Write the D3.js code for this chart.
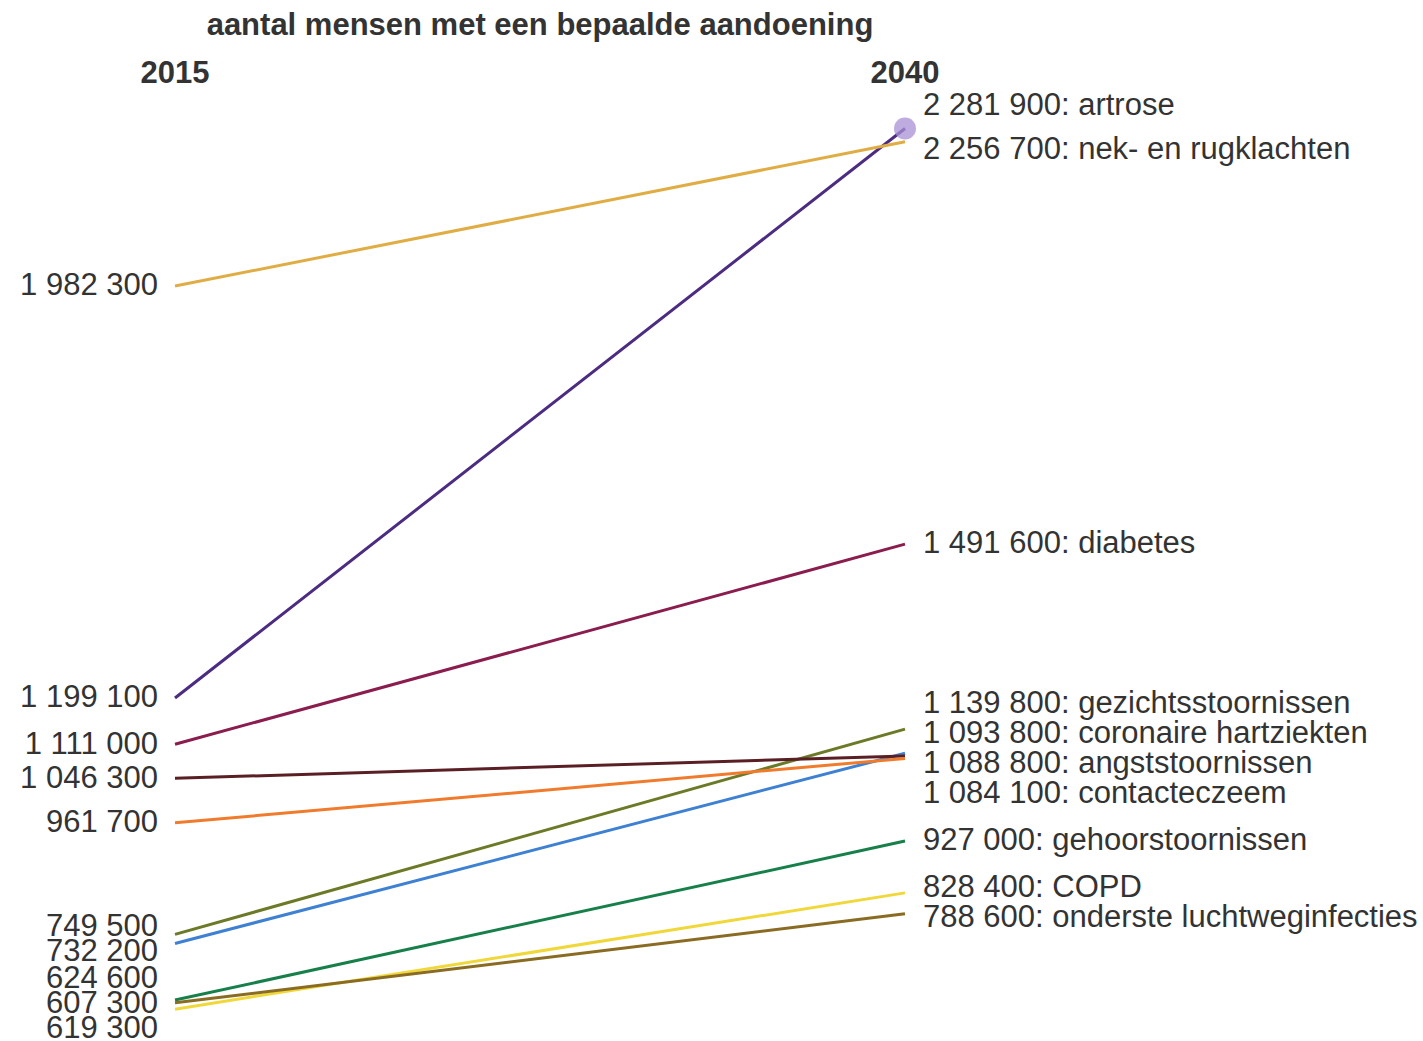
<!DOCTYPE html>
<html>
<head>
<meta charset="utf-8">
<script src="https://cdn.jsdelivr.net/npm/d3@7"></script>
<style>
  body { margin: 0; background: #fff; }
  text { font-family: "Liberation Sans", Arial, sans-serif; fill: #333; }
</style>
</head>
<body>
<svg id="chart"></svg>
<script>
// Data: number of people with a certain condition, 2015 and 2040
const years = ['2015', '2040'];
const conditions = ['artrose', 'nek- en rugklachten', 'diabetes', 'gezichtsstoornissen',
    'coronaire hartziekten', 'angststoornissen', 'contacteczeem', 'gehoorstoornissen',
    'COPD', 'onderste luchtweginfecties'];
const values2015 = [1199100, 1982300, 1111000, 749500, 732200, 1046300, 961700, 624600, 607300, 619300];
const values2040 = [2281900, 2256700, 1491600, 1139800, 1093800, 1088800, 1084100, 927000, 828400, 788600];
const lineColors = ['#4b2c80', '#e0ad45', '#8a1c4e', '#6b7a26', '#3e80d2', '#5a1f25',
    '#f07b2c', '#17804a', '#f1d83a', '#8a6b22'];

const width = 1423, height = 1041;
const fontSize = 31;

const svg = d3.select('#chart')
    .attr('width', width)
    .attr('height', height);

svg.append('rect').attr('width', width).attr('height', height).attr('fill', '#fff');

// scales
const x = d3.scalePoint().domain(years).range([175, 905]);
const y = d3.scaleLinear().domain([600000, 2300000]).range([1013, 119]);

const fmt = v => d3.format(',')(v).replace(/,/g, ' ');

const data = conditions.map((c, i) => ({
    name: c,
    v15: values2015[i],
    v40: values2040[i],
    color: lineColors[i]
}));

// simple label dodge: merge overlapping labels into clusters centred on their targets
const dodge = (items, gap) => {
    let clusters = items.map(d => ({items: [d], y: d.target}));
    let merged = true;
    while (merged) {
        merged = false;
        for (let i = 0; i < clusters.length - 1; i++) {
            const a = clusters[i], b = clusters[i + 1];
            const aBottom = a.y + (a.items.length - 1) * gap / 2;
            const bTop = b.y - (b.items.length - 1) * gap / 2;
            if (bTop - aBottom < gap) {
                const all = a.items.concat(b.items);
                clusters.splice(i, 2, {items: all, y: d3.mean(all, d => d.target)});
                merged = true;
                break;
            }
        }
    }
    clusters.forEach(c => {
        const top = c.y - (c.items.length - 1) * gap / 2;
        c.items.forEach((d, j) => d.pos = top + j * gap);
    });
    return items;
};

// title and year headers
svg.append('text')
    .attr('x', (x('2015') + x('2040')) / 2)
    .attr('y', 24)
    .attr('dy', '0.35em')
    .attr('text-anchor', 'middle')
    .attr('font-weight', 'bold')
    .attr('font-size', fontSize)
    .text('aantal mensen met een bepaalde aandoening');

svg.selectAll('text.year').data(years)
    .join('text')
    .attr('class', 'year')
    .attr('x', d => x(d))
    .attr('y', 72)
    .attr('dy', '0.35em')
    .attr('text-anchor', 'middle')
    .attr('font-weight', 'bold')
    .attr('font-size', fontSize)
    .text(d => d);

// lines
const lines = svg.append('g');
lines.selectAll('line').data(data)
    .join('line')
    .attr('x1', x('2015'))
    .attr('x2', x('2040'))
    .attr('y1', d => y(d.v15))
    .attr('y2', d => y(d.v40))
    .attr('stroke', d => d.color)
    .attr('stroke-width', 3);

// highlight dot on the top end point
const top40 = data.reduce((a, b) => (b.v40 > a.v40 ? b : a));
svg.append('circle')
    .attr('cx', x('2040'))
    .attr('cy', y(top40.v40))
    .attr('r', 11)
    .attr('fill', '#a88fd6')
    .attr('opacity', 0.75);

// left labels: lines starting near each other are ordered by where they end
const left = data.map(d => ({d, target: y(d.v15)}))
    .sort((a, b) => (Math.round(b.d.v15 / 50000) - Math.round(a.d.v15 / 50000)) || (b.d.v40 - a.d.v40));
dodge(left, 25);

svg.append('g').selectAll('text').data(left)
    .join('text')
    .attr('x', x('2015') - 17)
    .attr('y', d => d.pos)
    .attr('dy', '0.3em')
    .attr('text-anchor', 'end')
    .attr('font-size', fontSize)
    .text(d => fmt(d.d.v15));

// right labels
const right = data.map(d => ({d, target: y(d.v40)}))
    .sort((a, b) => b.d.v40 - a.d.v40);
dodge(right, 30);
// keep the label of the highlighted point clear of its dot
right.filter(r => r.d === top40).forEach(r => r.pos -= 14);

svg.append('g').selectAll('text').data(right)
    .join('text')
    .attr('x', x('2040') + 18)
    .attr('y', d => d.pos)
    .attr('dy', '0.28em')
    .attr('font-size', fontSize)
    .text(d => `${fmt(d.d.v40)}: ${d.d.name}`);
</script>
</body>
</html>
